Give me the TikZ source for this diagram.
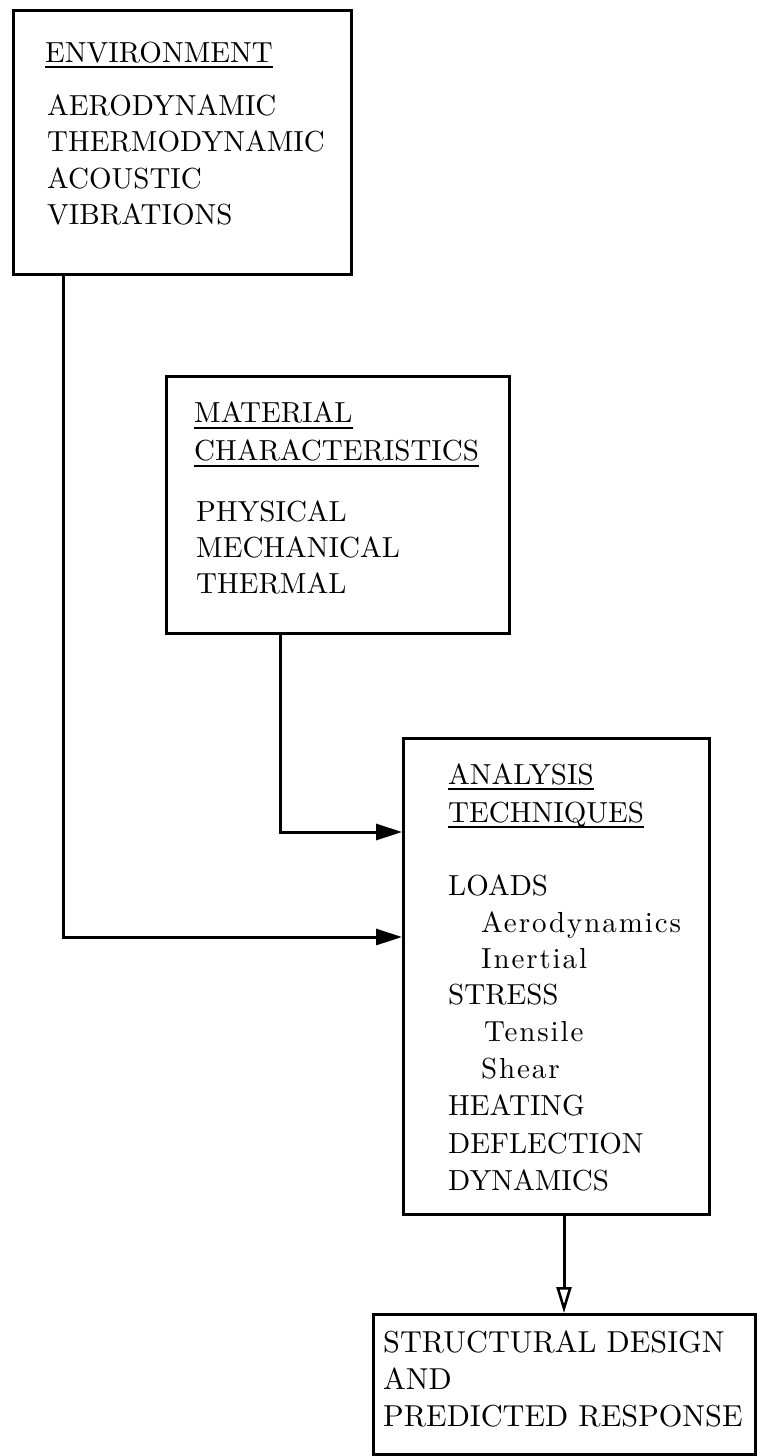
\documentclass[tikz,border=0pt]{standalone}
\usepackage{fontspec}
\setmainfont{lmroman10-regular.otf}
\usetikzlibrary{arrows.meta}
\tikzset{
  boxnode/.style={draw=black, line width=3pt, rectangle, inner sep=0pt, anchor=north west},
  txt/.style={inner sep=0pt, anchor=base west, font=\fontsize{29}{35}\selectfont},
  txtl/.style={inner sep=0pt, anchor=base west, font=\fontsize{29}{35}\selectfont\addfontfeatures{LetterSpace=6.5}},
  txtb/.style={inner sep=0pt, anchor=base west, font=\fontsize{30.3}{36}\selectfont},
  uline/.style={line width=1.8pt, line cap=butt},
  conn/.style={line width=3pt, -{Triangle[length=26pt,width=16pt]}},
  conno/.style={line width=3pt, -{Triangle[open,length=26pt,width=15pt,line width=2.6pt]}}
}
\begin{document}
\begin{tikzpicture}[x=1pt,y=-1pt]
\useasboundingbox (0,0) rectangle (756,1456);
% boxes
\node[boxnode, minimum width=338pt, minimum height=264pt] (envbox) at (12,9) {};
\node[boxnode, minimum width=343pt, minimum height=257pt] (matbox) at (165,375) {};
\node[boxnode, minimum width=306pt, minimum height=476pt] (anbox) at (402,737) {};
\node[boxnode, minimum width=382pt, minimum height=140pt] (strbox) at (372,1313) {};
% environment texts
\node[txt] (env) at (45,62) {ENVIRONMENT};
\node[txt] (env1) at (47,115) {AERODYNAMIC};
\node[txt] (env2) at (47,151) {THERMODYNAMIC};
\node[txt] (env3) at (47,188) {ACOUSTIC};
\node[txt] (env4) at (47,224) {VIBRATIONS};
\draw[uline] ([yshift=-5pt]env.base west) -- ([yshift=-5pt]env.base east);
% material texts
\node[txt] (mat) at (194,422) {MATERIAL};
\node[txt] (mat0) at (194,460) {CHARACTERISTICS};
\node[txt] (mat1) at (196,521) {PHYSICAL};
\node[txt] (mat2) at (196,557) {MECHANICAL};
\node[txt] (mat3) at (196,593) {THERMAL};
\draw[uline] ([yshift=-6pt]mat.base west) -- ([yshift=-6pt]mat.base east);
\draw[uline] ([yshift=-6pt]mat0.base west) -- ([yshift=-6pt]mat0.base east);
% analysis texts
\node[txt] (an) at (448,784) {ANALYSIS};
\node[txt] (an0) at (448,822) {TECHNIQUES};
\node[txt] (an1) at (448,895) {LOADS};
\node[txtl] (an2) at (481,932) {Aerodynamics};
\node[txtl] (an3) at (481,968) {Inertial};
\node[txt] (an4) at (448,1004) {STRESS};
\node[txtl] (an5) at (484,1041) {Tensile};
\node[txtl] (an6) at (481,1078) {Shear};
\node[txt] (an7) at (448,1115) {HEATING};
\node[txt] (an8) at (448,1153) {DEFLECTION};
\node[txt] (an9) at (448,1190) {DYNAMICS};
\draw[uline] ([yshift=-5pt]an.base west) -- ([yshift=-5pt]an.base east);
\draw[uline] ([yshift=-5pt]an0.base west) -- ([yshift=-5pt]an0.base east);
% structural texts
\node[txtb] (st1) at (383,1352) {STRUCTURAL DESIGN};
\node[txtb] (st2) at (383,1389) {AND};
\node[txtb] (st3) at (383,1426) {PREDICTED RESPONSE};
% connectors
\coordinate (c1) at (63,937);
\coordinate (c2) at (280,832);
\coordinate (c3) at (564,1260);
\draw[conn] (envbox.south -| c1) -- (c1) -- (anbox.west |- c1);
\draw[conn] (matbox.south -| c2) -- (c2) -- (anbox.west |- c2);
\draw[conno] (anbox.south -| c3) -- (strbox.north -| c3);
\end{tikzpicture}
\end{document}
